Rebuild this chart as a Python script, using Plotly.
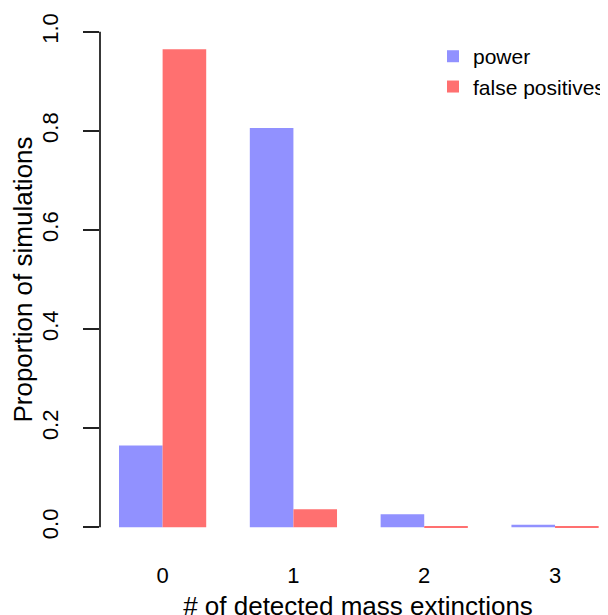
import plotly.graph_objects as go

categories = ["0", "1", "2", "3"]
power = [0.165, 0.806, 0.026, 0.005]
false_positives = [0.965, 0.036, 0.002, 0.002]
y_ticks = [0.0, 0.2, 0.4, 0.6, 0.8, 1.0]
y_tick_labels = ["0.0", "0.2", "0.4", "0.6", "0.8", "1.0"]

FONT = "Liberation Sans, Arial, Helvetica, sans-serif"
BLUE = "rgb(145,145,255)"
RED = "rgb(255,112,112)"

# the page body has an 8px default margin; margins below compensate for it
fig = go.Figure()
fig.add_trace(go.Bar(x=categories, y=power, name="power",
                     marker=dict(color=BLUE, line=dict(width=0))))
fig.add_trace(go.Bar(x=categories, y=false_positives, name="false positives",
                     marker=dict(color=RED, line=dict(width=0))))

fig.update_layout(
    width=608, height=615,
    margin=dict(l=92, r=0, t=4, b=75.5, pad=0),
    paper_bgcolor="white", plot_bgcolor="white",
    barmode="group", bargap=1/3, bargroupgap=0,
    font=dict(family=FONT, size=22, color="black"),
    showlegend=True,
    legend=dict(x=0.6453, xanchor="left", y=0.955, yanchor="top",
                bgcolor="rgba(0,0,0,0)", font=dict(size=21, color="black"),
                tracegroupgap=0, itemwidth=30),
    xaxis=dict(type="category", range=[-0.4786, 3.466], showgrid=False,
               zeroline=False, showline=False, ticks="",
               tickfont=dict(size=22),
               ticklabelstandoff=13, fixedrange=True,
               title=dict(text="# of detected mass extinctions", standoff=9,
                          font=dict(size=26))),
    yaxis=dict(range=[-0.04, 1.04], tickvals=y_ticks, ticktext=y_tick_labels,
               tickangle=-90, showgrid=False, zeroline=False, showline=False,
               ticks="outside", ticklen=16, tickwidth=1.6, tickcolor="#222",
               tickfont=dict(size=22),
               ticklabelstandoff=16,
               title=dict(text="Proportion of simulations", standoff=2,
                          font=dict(size=26))),
    shapes=[dict(type="line", xref="paper", yref="y", x0=0, x1=0, y0=0, y1=1,
                 line=dict(color="#222", width=1.8))],
)

fig.write_html("out.html")
